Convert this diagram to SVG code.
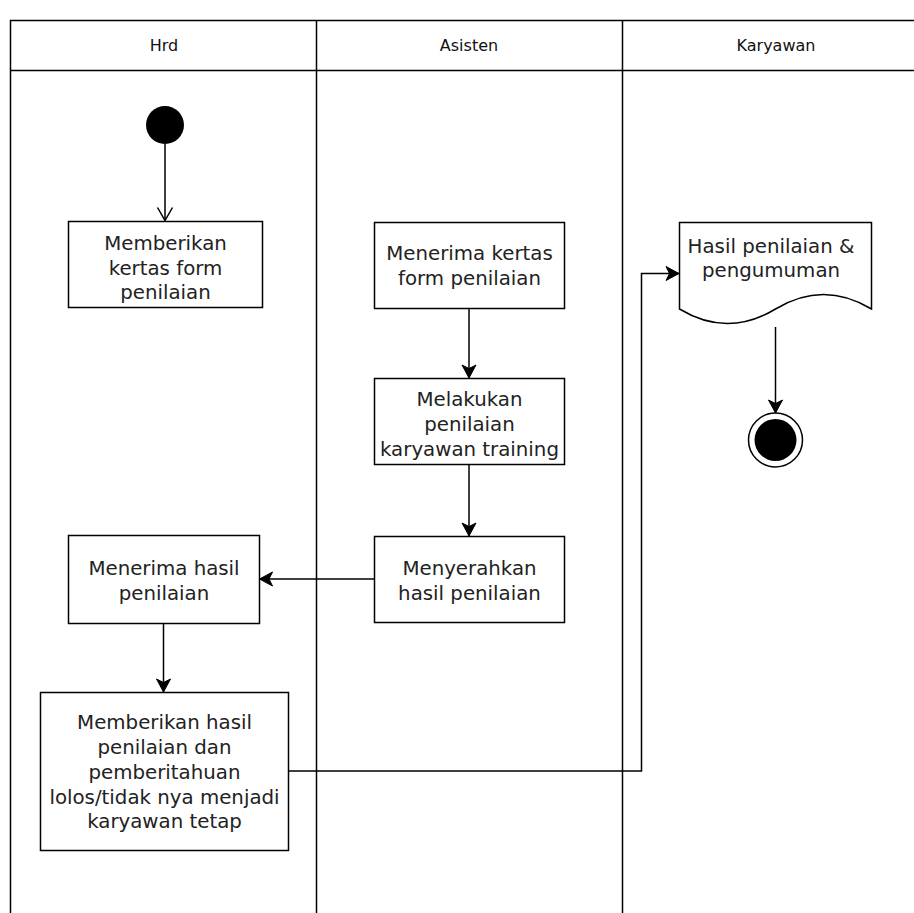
<svg xmlns="http://www.w3.org/2000/svg" width="914" height="913" viewBox="0 0 914 913">
  <style>
    .lane { fill: none; stroke: #000; stroke-width: 1.5; }
    .box { fill: #fff; stroke: #000; stroke-width: 1.5; }
    .edge { fill: none; stroke: #000; stroke-width: 1.5; }
    .hd { font-family: "DejaVu Sans", "Liberation Sans", sans-serif; font-size: 16px; fill: #111; text-anchor: middle; }
    .tx { font-family: "DejaVu Sans", "Liberation Sans", sans-serif; font-size: 19.8px; fill: #222; text-anchor: middle; }
  </style>
  <defs>
    <marker id="arrow" viewBox="-14 -8 16 16" markerWidth="16" markerHeight="16" refX="0" refY="0" orient="auto" markerUnits="userSpaceOnUse">
      <path d="M0,0 L-13,-7 L-9.5,0 L-13,7 Z" fill="#000" stroke="#000" stroke-width="1"/>
    </marker>
    <marker id="open" viewBox="-14 -9 16 18" markerWidth="16" markerHeight="18" refX="0" refY="0" orient="auto" markerUnits="userSpaceOnUse">
      <path d="M-13,-7.5 L0,0 L-13,7.5" fill="none" stroke="#000" stroke-width="1.5"/>
    </marker>
  </defs>

  <rect width="914" height="913" fill="#fff"/>

  <!-- swimlane pool -->
  <g id="pool">
    <path class="lane" d="M920,20.5 H10.5 V920 M10.5,70.5 H920 M316.5,20.5 V920 M622.5,20.5 V920"/>
    <text class="hd" x="164" y="51">Hrd</text>
    <text class="hd" x="469" y="51">Asisten</text>
    <text class="hd" x="776" y="51">Karyawan</text>
  </g>

  <!-- connectors -->
  <g id="edges">
    <path class="edge" d="M165,144 V220.5" marker-end="url(#open)"/>
    <path class="edge" d="M469,308 V378" marker-end="url(#arrow)"/>
    <path class="edge" d="M469,464 V536" marker-end="url(#arrow)"/>
    <path class="edge" d="M374,579 H259.5" marker-end="url(#arrow)"/>
    <path class="edge" d="M163.5,623 V692" marker-end="url(#arrow)"/>
    <path class="edge" d="M288,771 H641.5 V273.5 H679" marker-end="url(#arrow)"/>
    <path class="edge" d="M775.5,327 V413" marker-end="url(#arrow)"/>
  </g>

  <g id="start">
    <circle cx="165" cy="125" r="19" fill="#000"/>
  </g>

  <g id="memberikan-form">
    <rect class="box" x="68.5" y="221.5" width="194" height="86"/>
    <text class="tx" x="165.5" y="250">Memberikan</text>
    <text class="tx" x="165.5" y="275">kertas form</text>
    <text class="tx" x="165.5" y="299">penilaian</text>
  </g>

  <g id="menerima-form">
    <rect class="box" x="374.5" y="222.5" width="190" height="86"/>
    <text class="tx" x="469.5" y="260">Menerima kertas</text>
    <text class="tx" x="469.5" y="285">form penilaian</text>
  </g>

  <g id="melakukan-penilaian">
    <rect class="box" x="374.5" y="378.5" width="190" height="86"/>
    <text class="tx" x="469.5" y="406">Melakukan</text>
    <text class="tx" x="469.5" y="431">penilaian</text>
    <text class="tx" x="469.5" y="456">karyawan training</text>
  </g>

  <g id="menyerahkan-hasil">
    <rect class="box" x="374.5" y="536.5" width="190" height="86"/>
    <text class="tx" x="469.5" y="575">Menyerahkan</text>
    <text class="tx" x="469.5" y="600">hasil penilaian</text>
  </g>

  <g id="menerima-hasil">
    <rect class="box" x="68.5" y="535.5" width="191" height="88"/>
    <text class="tx" x="164" y="575">Menerima hasil</text>
    <text class="tx" x="164" y="600">penilaian</text>
  </g>

  <g id="memberikan-hasil">
    <rect class="box" x="40.5" y="692.5" width="248" height="158"/>
    <text class="tx" x="164.5" y="729">Memberikan hasil</text>
    <text class="tx" x="164.5" y="754">penilaian dan</text>
    <text class="tx" x="164.5" y="779">pemberitahuan</text>
    <text class="tx" x="164.5" y="804">lolos/tidak nya menjadi</text>
    <text class="tx" x="164.5" y="828">karyawan tetap</text>
  </g>

  <g id="hasil-dokumen">
    <path class="box" d="M679.5,222.5 H871.5 V309 Q823.5,280 775.5,309 Q727.5,338 679.5,309 Z"/>
    <text class="tx" x="771" y="253">Hasil penilaian &amp;</text>
    <text class="tx" x="771" y="277">pengumuman</text>
  </g>

  <g id="end">
    <circle cx="775.5" cy="440" r="27" fill="#fff" stroke="#000" stroke-width="1.5"/>
    <circle cx="775.5" cy="440" r="21" fill="#000"/>
  </g>
</svg>
